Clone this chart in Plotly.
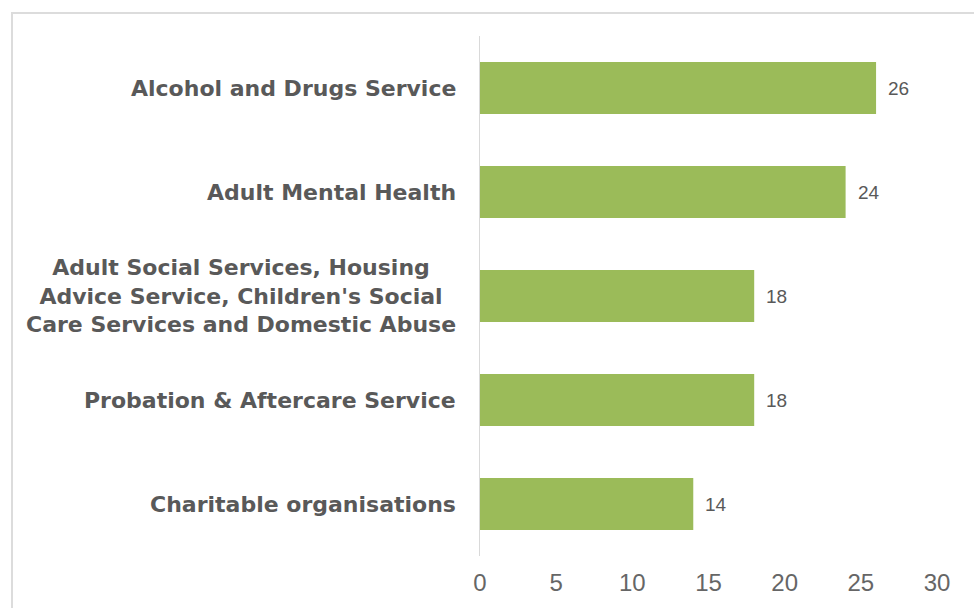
import plotly.graph_objects as go

# Referral counts by service
services = [
    "Alcohol and Drugs Service",
    "Adult Mental Health",
    "Adult Social Services, Housing<br>Advice Service, Children's Social<br>Care Services and Domestic Abuse",
    "Probation & Aftercare Service",
    "Charitable organisations",
]
counts = [26, 24, 18, 18, 14]
x_ticks = [0, 5, 10, 15, 20, 25, 30]

BAR_COLOR = "#9BBB59"
TEXT_COLOR = "#595959"

fig = go.Figure(
    go.Bar(
        x=counts,
        y=services,
        orientation="h",
        marker=dict(color=BAR_COLOR, line=dict(width=0)),
        hoverinfo="x+y",
    )
)

# Category labels, centred per line and right-aligned against the axis
for name in services:
    fig.add_annotation(
        x=0, y=name, xref="x", yref="y",
        text=f"<b>{name}</b>",
        showarrow=False,
        xanchor="right", yanchor="middle",
        align="center",
        xshift=-22,
        font=dict(family="DejaVu Sans", size=22, color=TEXT_COLOR),
    )

# Value labels at the end of each bar
for name, val in zip(services, counts):
    fig.add_annotation(
        x=val, y=name, xref="x", yref="y",
        text=str(val),
        showarrow=False,
        xanchor="left", yanchor="middle",
        xshift=10,
        font=dict(family="Liberation Sans, Arial", size=19, color=TEXT_COLOR),
    )

# Light frame around the chart
fig.add_shape(
    type="rect", xref="paper", yref="paper",
    x0=(12 - 480) / 457, x1=(990 - 480) / 457,
    y0=(556 - 620) / 520, y1=(556 - 13) / 520,
    line=dict(color="#DCDCDC", width=2),
    fillcolor="rgba(0,0,0,0)",
    layer="below",
)

fig.update_layout(
    width=974, height=608,
    margin=dict(l=480, r=37, t=36, b=52),
    paper_bgcolor="white",
    plot_bgcolor="white",
    bargap=0.5,
    showlegend=False,
    xaxis=dict(
        range=[0, 30],
        tickmode="array",
        tickvals=x_ticks,
        ticktext=[str(t) for t in x_ticks],
        showgrid=False,
        zeroline=False,
        showline=False,
        ticks="",
        ticklabelstandoff=10,
        tickfont=dict(family="Liberation Sans, Arial", size=24, color="#666666"),
    ),
    yaxis=dict(
        categoryorder="array",
        categoryarray=services[::-1],
        showticklabels=False,
        showgrid=False,
        zeroline=False,
        showline=True,
        linecolor="#D9D9D9",
        linewidth=1,
        ticks="",
    ),
)

fig.write_html("out.html")
